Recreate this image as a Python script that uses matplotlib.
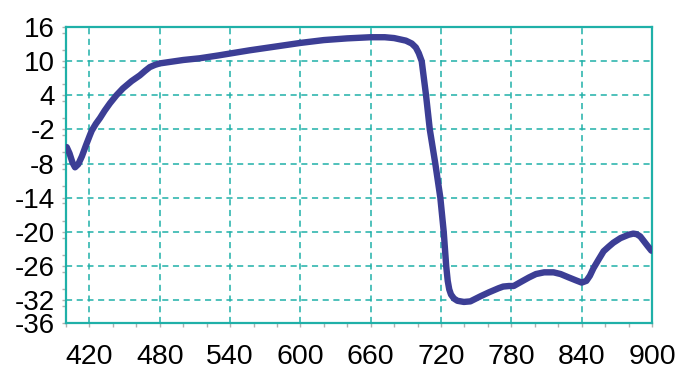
import matplotlib
matplotlib.use("Agg")
import matplotlib.pyplot as plt
from matplotlib.ticker import MultipleLocator, FixedLocator

wavelength = [400.6, 403.0, 405.5, 407.7, 410.5, 413.6, 417.0, 420.4, 422.0, 425.5, 429.0,
              433.0, 437.5, 443.0, 448.5, 456.0, 463.0, 467.5, 471.5, 476.0, 480.0, 490.0,
              500.0, 514.0, 530.0, 556.6, 580.0, 600.0, 620.0, 640.0, 660.0, 672.0, 680.0,
              690.0, 695.0, 698.5, 701.0, 703.5, 707.2, 710.4, 715.1, 719.4, 722.3, 724.4,
              725.7, 727.0, 728.5, 731.0, 734.0, 739.5, 745.0, 753.7, 761.0, 769.0, 773.0,
              778.0, 782.0, 788.0, 795.0, 801.0, 808.0, 816.0, 822.0, 829.0, 835.0, 840.0,
              844.0, 847.0, 850.0, 854.0, 858.7, 863.0, 867.0, 873.0, 880.0, 884.0, 887.0,
              890.0, 893.0, 896.0, 899.5]
value = [-5.1, -6.2, -7.8, -8.65, -8.1, -6.7, -4.8, -3.0, -2.2, -1.0, 0.0,
         1.3, 2.6, 4.0, 5.2, 6.5, 7.5, 8.3, 8.95, 9.35, 9.6, 9.9,
         10.2, 10.5, 11.0, 11.9, 12.6, 13.2, 13.7, 14.0, 14.2, 14.2, 14.05,
         13.6, 13.1, 12.4, 11.4, 10.0, 4.0, -2.0, -8.0, -14.0, -20.0, -26.0,
         -28.6, -30.1, -31.0, -31.7, -32.1, -32.3, -32.2, -31.3, -30.6, -29.9, -29.6,
         -29.5, -29.5, -28.8, -28.0, -27.4, -27.1, -27.1, -27.4, -28.0, -28.5, -28.9,
         -28.6, -27.7, -26.4, -25.0, -23.4, -22.6, -21.9, -21.1, -20.5, -20.3, -20.4,
         -20.8, -21.6, -22.4, -23.3]

yticks = [16, 10, 4, -2, -8, -14, -20, -26, -32, -36]
xticks = [420, 480, 540, 600, 660, 720, 780, 840, 900]

teal = "#1fb0a8"
fig = plt.figure(figsize=(6.89, 3.80), dpi=100)
ax = fig.add_axes([0.0958, 0.15, 0.8505, 0.779])
ax.plot(wavelength, value, color="#3c3e95", linewidth=4.6, solid_joinstyle="round",
        solid_capstyle="round", zorder=3)
ax.set_xlim(400, 900)
ax.set_ylim(-36, 16)
ax.yaxis.set_major_locator(FixedLocator(yticks))
ax.set_yticklabels([str(t) for t in yticks], fontsize=20, family="Liberation Sans")
ax.xaxis.set_major_locator(FixedLocator(xticks))
ax.set_xticklabels([str(t) for t in xticks], fontsize=20.5, family="Liberation Sans")
ax.xaxis.set_minor_locator(MultipleLocator(20))
ax.yaxis.set_minor_locator(MultipleLocator(3))
ax.grid(True, which="major", color=teal, linestyle=(0, (4, 3)), linewidth=1.1)
for s in ax.spines.values():
    s.set_color(teal)
    s.set_linewidth(1.6)
ax.tick_params(axis="both", which="both", length=3, color="#b0b0b0", width=1)
ax.tick_params(axis="y", which="major", pad=5)
ax.tick_params(axis="x", which="major", pad=12)
fig.savefig("out.png", dpi=100)
